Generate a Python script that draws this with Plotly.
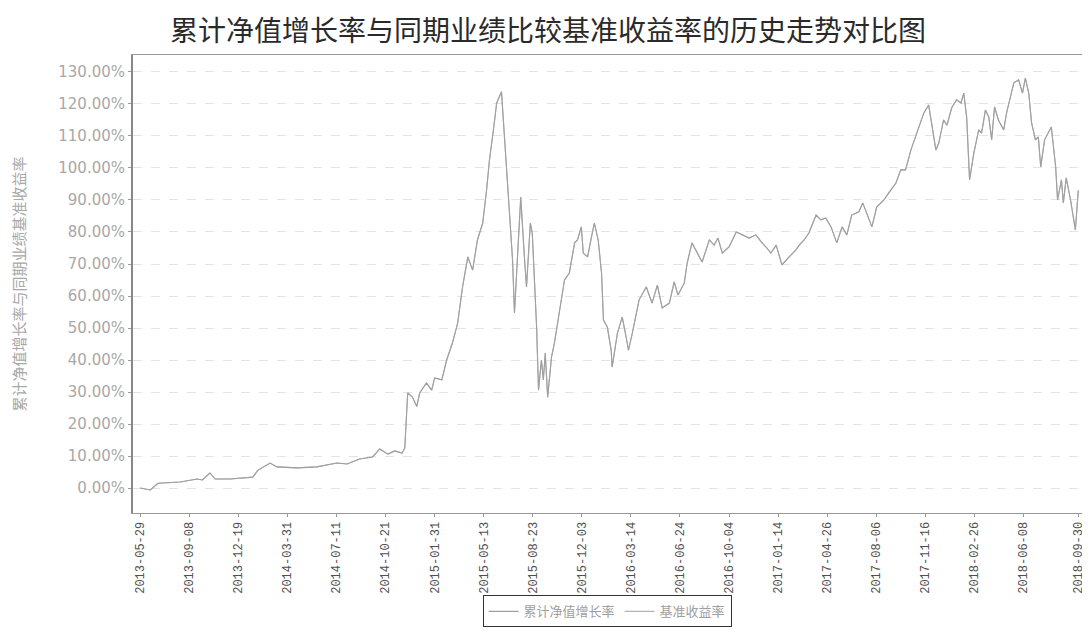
import plotly.graph_objects as go

# ---- data ----
dates = [
    "2013-05-29", "2013-06-19", "2013-07-05", "2013-08-20", "2013-09-24", "2013-10-05",
    "2013-10-21", "2013-11-01", "2013-12-02", "2014-01-06", "2014-01-18", "2014-01-29",
    "2014-02-23", "2014-03-09", "2014-04-20", "2014-05-31", "2014-07-12", "2014-08-02",
    "2014-08-28", "2014-09-24", "2014-10-09", "2014-10-26", "2014-11-09", "2014-11-24",
    "2014-11-30", "2014-12-06", "2014-12-16", "2014-12-25", "2014-12-31", "2015-01-14",
    "2015-01-25", "2015-01-31", "2015-02-15", "2015-02-25", "2015-03-09", "2015-03-20",
    "2015-03-30", "2015-04-10", "2015-04-20", "2015-04-30", "2015-05-11", "2015-05-19",
    "2015-05-25", "2015-06-03", "2015-06-09", "2015-06-19", "2015-06-25", "2015-06-30",
    "2015-07-06", "2015-07-12", "2015-07-16", "2015-07-20", "2015-07-29", "2015-08-06",
    "2015-08-10", "2015-08-18", "2015-08-22", "2015-08-31", "2015-09-04", "2015-09-10",
    "2015-09-14", "2015-09-18", "2015-09-23", "2015-10-01", "2015-10-07", "2015-10-17",
    "2015-10-28", "2015-11-07", "2015-11-18", "2015-11-24", "2015-12-02", "2015-12-06",
    "2015-12-15", "2015-12-23", "2015-12-29", "2016-01-06", "2016-01-13", "2016-01-17",
    "2016-01-25", "2016-02-02", "2016-02-04", "2016-02-15", "2016-02-25", "2016-03-04",
    "2016-03-09", "2016-03-17", "2016-03-25", "2016-03-31", "2016-04-15", "2016-04-27",
    "2016-05-08", "2016-05-18", "2016-06-02", "2016-06-12", "2016-06-20", "2016-07-03",
    "2016-07-09", "2016-07-19", "2016-08-09", "2016-08-24", "2016-09-03", "2016-09-11",
    "2016-09-20", "2016-10-04", "2016-10-19", "2016-10-31", "2016-11-15", "2016-11-29",
    "2016-12-10", "2016-12-20", "2016-12-30", "2017-01-10", "2017-01-22", "2017-02-06",
    "2017-02-20", "2017-02-27", "2017-03-09", "2017-03-19", "2017-04-03", "2017-04-13",
    "2017-04-23", "2017-05-04", "2017-05-16", "2017-05-27", "2017-06-06", "2017-06-16",
    "2017-07-01", "2017-07-09", "2017-07-17", "2017-07-28", "2017-08-07", "2017-08-22",
    "2017-09-01", "2017-09-16", "2017-09-26", "2017-10-06", "2017-10-17", "2017-10-27",
    "2017-11-07", "2017-11-13", "2017-11-23", "2017-11-29", "2017-12-08", "2017-12-14",
    "2017-12-24", "2017-12-31", "2018-01-10", "2018-01-20", "2018-01-29", "2018-02-04",
    "2018-02-10", "2018-02-16", "2018-02-25", "2018-03-07", "2018-03-13", "2018-03-21",
    "2018-03-28", "2018-04-03", "2018-04-09", "2018-04-17", "2018-04-28", "2018-05-04",
    "2018-05-12", "2018-05-19", "2018-05-29", "2018-06-06", "2018-06-12", "2018-06-19",
    "2018-06-25", "2018-07-03", "2018-07-09", "2018-07-14", "2018-07-22", "2018-07-30",
    "2018-08-05", "2018-08-14", "2018-08-18", "2018-08-26", "2018-08-30", "2018-09-05",
    "2018-09-14", "2018-09-24", "2018-09-28", "2018-09-30",
]

# 累计净值增长率 (%)
nav_growth = [
    0.0, -0.6, 1.5, 1.9, 2.8, 2.5,
    4.7, 2.8, 2.8, 3.4, 3.4, 5.6,
    7.8, 6.6, 6.3, 6.6, 7.8, 7.5,
    9.1, 9.7, 12.2, 10.6, 11.6, 10.9,
    12.5, 29.7, 28.4, 25.5, 29.7, 32.8,
    30.6, 34.4, 33.8, 40.0, 45.3, 51.6,
    62.8, 72.2, 68.1, 77.5, 82.8, 93.1,
    102.5, 112.8, 120.3, 123.8, 109.7, 99.4,
    85.9, 71.3, 54.7, 65.9, 90.9, 71.3,
    62.8, 82.8, 79.7, 50.3, 30.6, 40.0,
    33.8, 42.2, 28.4, 40.9, 45.3, 54.7,
    65.0, 67.2, 76.6, 77.5, 81.6, 73.4,
    72.2, 78.4, 82.8, 77.5, 67.2, 52.5,
    50.3, 43.1, 37.8, 48.4, 53.4, 47.2,
    43.1, 48.4, 54.7, 58.8, 62.8, 57.8,
    63.4, 56.3, 57.8, 64.4, 60.3, 64.1,
    70.3, 76.6, 70.6, 77.5, 75.9, 78.1,
    73.4, 75.3, 80.0, 79.1, 78.1, 79.1,
    76.9, 75.3, 73.4, 75.9, 69.7, 72.2,
    74.4, 75.9, 77.5, 79.7, 85.3, 83.8,
    84.4, 81.6, 76.6, 81.6, 79.1, 85.3,
    86.3, 89.1, 85.9, 81.6, 87.8, 90.0,
    92.2, 95.3, 99.4, 99.4, 105.6, 109.7,
    114.1, 117.2, 119.7, 114.1, 105.6, 107.8,
    115.0, 113.4, 118.8, 121.3, 120.3, 123.4,
    115.9, 96.3, 104.7, 111.9, 110.9, 118.1,
    115.9, 108.8, 119.1, 115.0, 111.9, 117.2,
    122.2, 126.6, 127.5, 123.4, 128.1, 123.4,
    114.1, 108.8, 109.7, 100.3, 108.8, 110.9,
    112.8, 100.3, 90.0, 96.3, 89.1, 96.9,
    90.0, 80.6, 88.0, 93.0,
]

# 基准收益率 (%) - in the reference it lies under the fund line (indistinguishable)
benchmark_rate = [
    0.0, -0.6, 1.5, 1.9, 2.8, 2.5,
    4.7, 2.8, 2.8, 3.4, 3.4, 5.6,
    7.8, 6.6, 6.3, 6.6, 7.8, 7.5,
    9.1, 9.7, 12.2, 10.6, 11.6, 10.9,
    12.5, 29.7, 28.4, 25.5, 29.7, 32.8,
    30.6, 34.4, 33.8, 40.0, 45.3, 51.6,
    62.8, 72.2, 68.1, 77.5, 82.8, 93.1,
    102.5, 112.8, 120.3, 123.8, 109.7, 99.4,
    85.9, 71.3, 54.7, 65.9, 90.9, 71.3,
    62.8, 82.8, 79.7, 50.3, 30.6, 40.0,
    33.8, 42.2, 28.4, 40.9, 45.3, 54.7,
    65.0, 67.2, 76.6, 77.5, 81.6, 73.4,
    72.2, 78.4, 82.8, 77.5, 67.2, 52.5,
    50.3, 43.1, 37.8, 48.4, 53.4, 47.2,
    43.1, 48.4, 54.7, 58.8, 62.8, 57.8,
    63.4, 56.3, 57.8, 64.4, 60.3, 64.1,
    70.3, 76.6, 70.6, 77.5, 75.9, 78.1,
    73.4, 75.3, 80.0, 79.1, 78.1, 79.1,
    76.9, 75.3, 73.4, 75.9, 69.7, 72.2,
    74.4, 75.9, 77.5, 79.7, 85.3, 83.8,
    84.4, 81.6, 76.6, 81.6, 79.1, 85.3,
    86.3, 89.1, 85.9, 81.6, 87.8, 90.0,
    92.2, 95.3, 99.4, 99.4, 105.6, 109.7,
    114.1, 117.2, 119.7, 114.1, 105.6, 107.8,
    115.0, 113.4, 118.8, 121.3, 120.3, 123.4,
    115.9, 96.3, 104.7, 111.9, 110.9, 118.1,
    115.9, 108.8, 119.1, 115.0, 111.9, 117.2,
    122.2, 126.6, 127.5, 123.4, 128.1, 123.4,
    114.1, 108.8, 109.7, 100.3, 108.8, 110.9,
    112.8, 100.3, 90.0, 96.3, 89.1, 96.9,
    90.0, 80.6, 88.0, 93.0,
]

x_tick_dates = [
    "2013-05-29", "2013-09-08", "2013-12-19", "2014-03-31", "2014-07-11",
    "2014-10-21", "2015-01-31", "2015-05-13", "2015-08-23", "2015-12-03",
    "2016-03-14", "2016-06-24", "2016-10-04", "2017-01-14", "2017-04-26",
    "2017-08-06", "2017-11-16", "2018-02-26", "2018-06-08", "2018-09-30",
]
y_tick_vals = [0, 10, 20, 30, 40, 50, 60, 70, 80, 90, 100, 110, 120, 130]
y_tick_text = [f"{v:.2f}%" for v in y_tick_vals]

title_text = "累计净值增长率与同期业绩比较基准收益率的历史走势对比图"
y_title = "累计净值增长率与同期业绩基准收益率"
series_names = ["累计净值增长率", "基准收益率"]

CJK = "Noto Sans CJK SC"

fig = go.Figure()
fig.add_trace(go.Scatter(
    x=dates, y=benchmark_rate, mode="lines", name=series_names[1],
    line=dict(color="#b4b4b4", width=1.1),
))
fig.add_trace(go.Scatter(
    x=dates, y=nav_growth, mode="lines", name=series_names[0],
    line=dict(color="#a0a0a0", width=1.1),
))

# page body has an 8px margin, so the figure is sized 1082x632
fig.update_layout(
    width=1082, height=632,
    paper_bgcolor="white", plot_bgcolor="white",
    margin=dict(l=125, r=3, t=47, b=127),
    title=dict(text=title_text, x=0.499, xanchor="center", y=0.963, yanchor="middle",
               font=dict(family=CJK, size=28, color="#2a2a2a")),
    showlegend=True,
    legend=dict(orientation="h", x=0.498, xanchor="center", y=-0.18, yanchor="top",
                bordercolor="#333333", borderwidth=1, bgcolor="white",
                font=dict(family=CJK, size=13, color="#a0a0a0"),
                traceorder="reversed", itemwidth=30),
    xaxis=dict(
        type="date", range=["2013-05-14", "2018-10-14"],
        tickmode="array", tickvals=x_tick_dates, ticktext=x_tick_dates,
        tickangle=-90, tickfont=dict(family="Liberation Mono", size=12, color="#505050"),
        showgrid=False, zeroline=False,
        showline=True, linecolor="#999999", linewidth=1, mirror=True,
        ticks="outside", ticklen=3, tickcolor="#999999",
    ),
    yaxis=dict(
        range=[-7.8, 135.3],
        tickmode="array", tickvals=y_tick_vals, ticktext=y_tick_text,
        tickfont=dict(family="DejaVu Sans", size=15, color="#a8a8a8"),
        showgrid=True, gridcolor="#e4e4e4", griddash="dash", gridwidth=1,
        zeroline=False,
        showline=True, linecolor="#888888", linewidth=2, mirror=True,
        ticks="outside", ticklen=3, tickcolor="#999999",
        title=dict(text=y_title, font=dict(family=CJK, size=15, color="#a8a8a8"), standoff=30),
    ),
)

fig.write_html("out.html")
